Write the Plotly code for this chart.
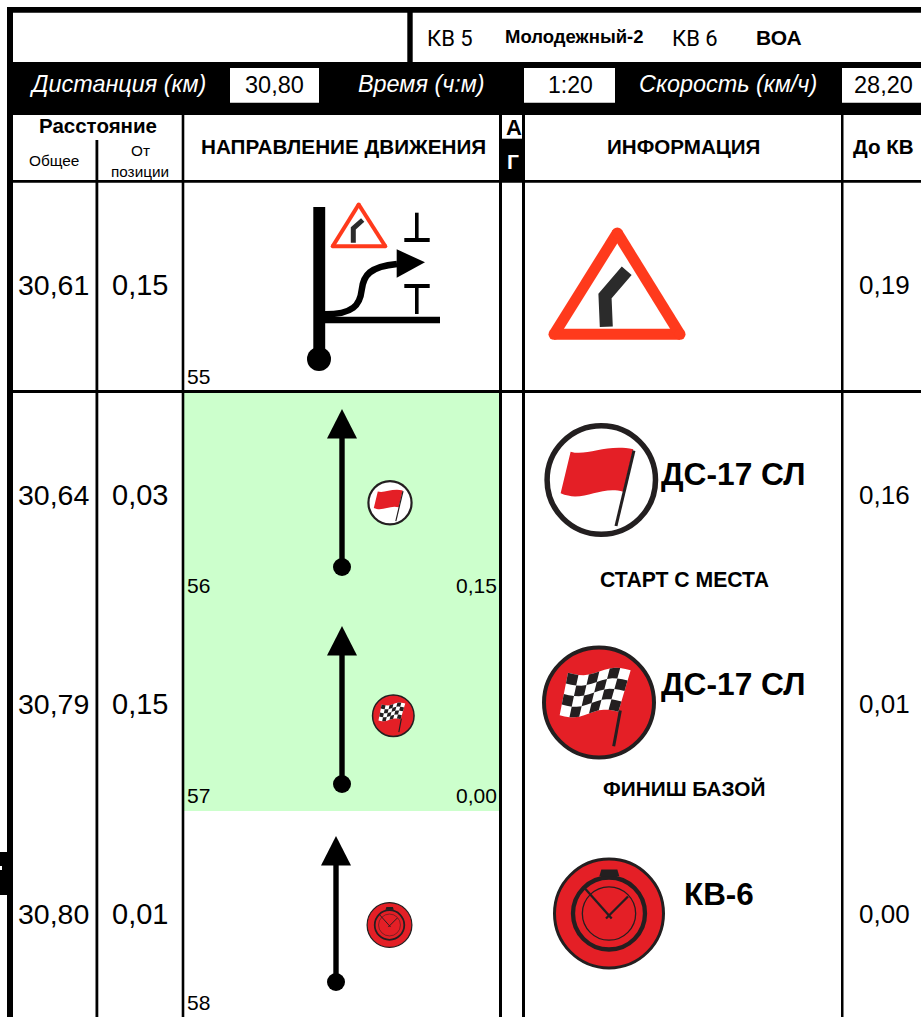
import math
import plotly.graph_objects as go

# ---- table content ----
total_km = ["30,61", "30,64", "30,79", "30,80"]
from_pos = ["0,15", "0,03", "0,15", "0,01"]
to_cp = ["0,19", "0,16", "0,01", "0,00"]
row_no = ["55", "56", "57", "58"]
leg_left = ["", "0,15", "0,00", ""]
summary_labels = ["Дистанция (км)", "Время (ч:м)", "Скорость (км/ч)"]
summary_values = ["30,80", "1:20", "28,20"]
cp_from = ["КВ\u00a05", "Молодежный-2"]
cp_to = ["КВ\u00a06", "ВОА"]
info_titles = ["ДС-17 СЛ", "ДС-17 СЛ", "КВ-6"]
info_notes = ["СТАРТ С МЕСТА", "ФИНИШ БАЗОЙ"]

BLACK = "#000000"
DARK = "#231f20"
RED = "#e41f26"
SIGN = "#ff3a1c"
GREEN = "#ccffcc"
FONT = "Liberation Sans"

shapes = []
ann = []


def rect(x0, y0, x1, y1, fill=BLACK):
    shapes.append(dict(type="rect", x0=x0, y0=y0, x1=x1, y1=y1, fillcolor=fill,
                       line=dict(width=0), layer="above"))


def path(d, fill=None, color=None, width=0):
    s = dict(type="path", path=d, layer="above",
             line=dict(color=color or "rgba(0,0,0,0)", width=width))
    if fill:
        s["fillcolor"] = fill
    shapes.append(s)


def poly(pts, **kw):
    closed = kw.pop("closed", True)
    d = "M " + " L ".join(f"{x:.2f},{y:.2f}" for x, y in pts)
    if closed:
        d += " Z"
    path(d, **kw)


def circle(cx, cy, r, fill=None, color=None, width=0):
    shapes.append(dict(type="circle", x0=cx - r, x1=cx + r, y0=cy - r, y1=cy + r,
                       fillcolor=fill or "rgba(0,0,0,0)", layer="above",
                       line=dict(color=color or "rgba(0,0,0,0)", width=width)))


def text(x, y, s, size, anchor="center", color=BLACK, family=FONT):
    ann.append(dict(x=x, y=y, text=s, showarrow=False, xanchor=anchor, yanchor="middle",
                    borderpad=0, borderwidth=0,
                    font=dict(size=size, color=color, family=family)))


def arrow(x, tip, dot):
    poly([(x, tip), (x + 15, tip + 29.5), (x - 15, tip + 29.5)], fill=BLACK)
    rect(x - 2.7, tip + 28, x + 2.7, dot)
    circle(x, dot, 9, fill=BLACK)


def flag_icon(cx, cy, R):
    k = R / 171
    sw = R / 57
    m = lambda zx, zy: (cx + (zx - 214) * k, cy + (zy - 210) * k)
    circle(cx, cy, R - 2.8 * sw, fill="#ffffff", color=DARK, width=5.5 * sw)
    p = [m(*q) for q in [(122, 125), (170, 140), (230, 100), (310, 118),
                         (280, 245), (210, 225), (160, 280), (92, 250)]]
    path(f"M {p[0][0]},{p[0][1]} C {p[1][0]},{p[1][1]} {p[2][0]},{p[2][1]} {p[3][0]},{p[3][1]} "
         f"L {p[4][0]},{p[4][1]} C {p[5][0]},{p[5][1]} {p[6][0]},{p[6][1]} {p[7][0]},{p[7][1]} Z",
         fill=RED)
    a, b = m(312, 122), m(258, 348)
    poly([a, b], closed=False, color=DARK, width=3 * sw)


def checker_icon(cx, cy, R):
    k = R / 171
    sw = R / 57
    m = lambda zx, zy: (cx + (zx - 208) * k, cy + (zy - 202) * k)
    circle(cx, cy, R - 2 * sw, fill=RED, color=DARK, width=4 * sw)

    def q(s, t):
        tx = 115 + (303 - 115) * s
        ty = 113 + (105 - 113) * s
        bx = 90 + (266 - 90) * s
        by = 240 + (230 - 240) * s
        off = 9 * math.sin(2 * math.pi * s)
        return m(tx + (bx - tx) * t, ty + (by - ty) * t + off)

    cols, rows = 6, 4
    n = 12
    outline = [q(i / n, 0) for i in range(n + 1)] + [q(1 - i / n, 1) for i in range(n + 1)]
    poly(outline, fill="#ffffff")
    for i in range(cols):
        for j in range(rows):
            if (i + j) % 2 == 0:
                s0, s1, t0, t1 = i / cols, (i + 1) / cols, j / rows, (j + 1) / rows
                poly([q(s0, t0), q((s0 + s1) / 2, t0), q(s1, t0), q(s1, t1),
                      q((s0 + s1) / 2, t1), q(s0, t1)], fill=DARK)
    poly([m(272, 226), m(252, 333)], closed=False, color=DARK, width=3 * sw)


def clock_icon(cx, cy, R):
    k = R / 168
    sw = R / 56
    m = lambda zx, zy: (cx + (zx - 207) * k, cy + (zy - 190) * k)
    circle(cx, cy, R - 1.5 * sw, fill=RED, color=DARK, width=3 * sw)
    circle(cx, cy, 108 * k, color=DARK, width=4.3 * sw)
    circle(cx, cy, 80 * k, color=DARK, width=1.3 * sw)
    poly([m(178, 78), m(184, 58), m(232, 58), m(238, 78)], fill=DARK)
    poly([m(215, 205), m(133, 113)], closed=False, color=DARK, width=2.3 * sw)
    poly([m(198, 205), m(264, 139)], closed=False, color=DARK, width=2.3 * sw)


def triangle_sign(apex, left, right, w, bend, bw):
    poly([apex, left, right], fill="#ffffff")
    for a, b in [(apex, left), (left, right), (right, apex)]:
        poly([a, b], closed=False, color=SIGN, width=w)
    for c in (apex, left, right):
        circle(c[0], c[1], w / 2, fill=SIGN)
    poly(bend, closed=False, color="#2b2b2b", width=bw)


# ---- table frame ----
rect(184, 393, 499, 811, GREEN)
rect(7, 7, 921, 12.7)
rect(7, 12, 13, 1017)
rect(407.3, 12, 412.7, 62)
rect(7, 62, 921, 115)
rect(230, 68, 319, 102.7, "#ffffff")
rect(524, 68, 615, 102.7, "#ffffff")
rect(842, 68, 921, 102.7, "#ffffff")
rect(7, 180, 921, 182.7)
rect(7, 390, 921, 393)
rect(95.5, 140, 98.3, 1017)
rect(181.7, 115, 184.3, 1017)
rect(499, 115, 502, 1017)
rect(522, 115, 525, 1017)
rect(841, 115, 843.5, 1017)
rect(499, 115, 525, 180)
rect(502, 115, 522, 138.7, "#ffffff")
rect(0, 852, 7, 895)
rect(0, 866, 2, 870, "#ffffff")

# ---- header texts ----
text(427, 38, cp_from[0], 22, anchor="left", family="Roboto")
text(574, 36, f"<b>{cp_from[1]}</b>", 18.5)
text(672, 38, cp_to[0], 22, anchor="left", family="Roboto")
text(778.5, 37, f"<b>{cp_to[1]}</b>", 21)
text(117, 84, f"<i>{summary_labels[0]}</i>", 23.4, color="#ffffff")
text(421, 84, f"<i>{summary_labels[1]}</i>", 23.4, color="#ffffff")
text(728, 84, f"<i>{summary_labels[2]}</i>", 23.4, color="#ffffff")
text(274.5, 85, summary_values[0], 23.5)
text(570, 85, summary_values[1], 23)
text(883.5, 85, summary_values[2], 23.5)
text(97.5, 125, "<b>Расстояние</b>", 20.5)
text(53.5, 160, "Общее", 15.4)
text(140, 150, "От", 15.3)
text(139.5, 171, "позиции", 15.3)
text(343, 146, "<b>НАПРАВЛЕНИЕ ДВИЖЕНИЯ</b>", 20.7)
text(513.5, 127, "<b>А</b>", 22)
text(513, 161, "<b>Г</b>", 21, color="#ffffff")
text(683.5, 146, "<b>ИНФОРМАЦИЯ</b>", 20.6)
text(883.5, 146, "<b>До КВ</b>", 20.6)

# ---- table rows ----
row_y = [285, 495, 704, 914]
num_y = [376, 585, 795, 1002]
for i, y in enumerate(row_y):
    text(53.5, y, total_km[i], 28.5)
    text(140, y, from_pos[i], 29)
    text(884, y, to_cp[i], 26)
    text(187, num_y[i], row_no[i], 21, anchor="left")
    if leg_left[i]:
        text(497, num_y[i], leg_left[i], 21, anchor="right")

text(661, 474, f"<b>{info_titles[0]}</b>", 31.7, anchor="left")
text(661, 684, f"<b>{info_titles[1]}</b>", 31.7, anchor="left")
text(719, 894, f"<b>{info_titles[2]}</b>", 31.4)
text(684.5, 579, f"<b>{info_notes[0]}</b>", 21.2)
text(684, 788.5, f"<b>{info_notes[1]}</b>", 20.8)

# ---- route diagram, row 55 ----
rect(313.3, 207, 325.2, 359)
circle(319, 359, 12, fill=BLACK)
rect(325, 316.7, 440, 323.3)
path("M 325,314.3 C 353,314.3 360,305 361.7,290 C 363.3,275 370,266.7 397,264",
     color=BLACK, width=6.5)
poly([(396.7, 249.3), (425, 262.3), (396.7, 277.7)], fill=BLACK)
rect(415, 212.7, 418.6, 240)
rect(404.3, 238, 429.7, 242)
rect(404.3, 284, 429.7, 288)
rect(415, 286, 418.6, 314)
triangle_sign((358.7, 204.5), (332.7, 246.3), (385.3, 246.3), 4,
              [(353.3, 242.7), (353.3, 228.3), (362.7, 220)], 5)

# ---- route diagrams, rows 56-58 ----
arrow(342, 409, 567)
flag_icon(390, 502.7, 22.7)
arrow(342, 626, 784)
checker_icon(393.3, 715.7, 21.5)
arrow(336, 836, 982)
clock_icon(389.5, 925, 23)

# ---- information column ----
triangle_sign((617.3, 233), (554, 334.3), (680, 334.3), 11,
              [(606.3, 326.7), (605, 296), (626.7, 270.7)], 13)
flag_icon(601.3, 480, 57)
checker_icon(599, 702.5, 57)
clock_icon(609, 913.5, 56)

fig = go.Figure()
fig.update_layout(
    width=921, height=1017, margin=dict(l=0, r=0, t=0, b=0),
    paper_bgcolor="#ffffff", plot_bgcolor="#ffffff", showlegend=False,
    xaxis=dict(range=[0, 921], visible=False, fixedrange=True),
    yaxis=dict(range=[1017, 0], visible=False, fixedrange=True),
    shapes=shapes, annotations=ann,
)
fig.write_html("out.html", config=dict(displayModeBar=False),
               post_script="document.body.style.margin='0';document.documentElement.style.overflow='hidden';")
